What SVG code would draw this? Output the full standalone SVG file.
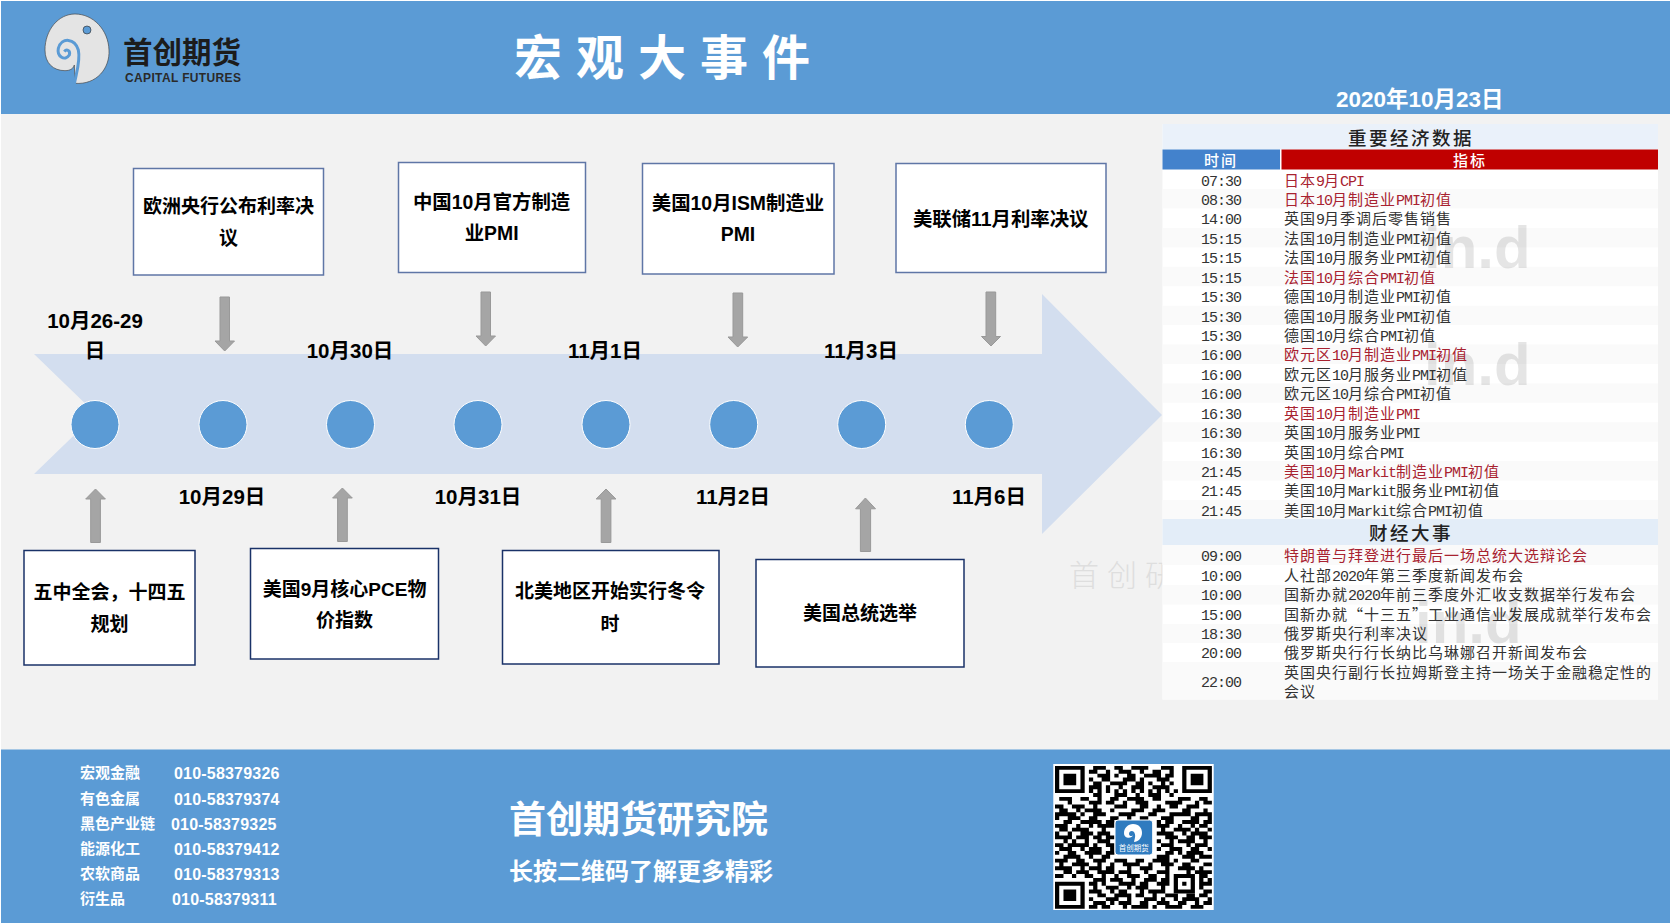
<svg xmlns="http://www.w3.org/2000/svg" width="1670" height="923" viewBox="0 0 1670 923">
<style>
text{font-family:"Noto Sans CJK SC","Liberation Sans",sans-serif}
.band{fill:#5B9BD5}
.box{fill:#fff;stroke-width:1.5}
.topb{stroke:#5F76A6}
.botb{stroke:#1A3268}
.bt,.dl{font-family:"Liberation Sans","Noto Sans CJK SC",sans-serif;font-weight:700;font-size:19px;fill:#000;text-anchor:middle}
.wd{font-size:19.4px}
.dl{font-size:20.5px}
.dot{fill:#5B9BD5;stroke:#fff;stroke-width:1}
.ga{fill:#A5A5A5;stroke:#999;stroke-width:1}
.sec{font-size:18.5px;font-weight:500;letter-spacing:2.5px;fill:#222;text-anchor:middle}
.alt{fill:#FAFAFA}
.r{font-size:15px;letter-spacing:1px;fill:#333}
.red{fill:#A82230}
.l,.t{font-family:"Liberation Mono",monospace;font-size:15px;letter-spacing:-1px}
.t{fill:#333;text-anchor:middle}
.wm{font-family:"Liberation Sans",sans-serif;font-weight:700;font-size:60px;fill:#000;fill-opacity:.1}
.fl{font-size:15px;font-weight:700;fill:#fff}
.fn{font-family:"Liberation Sans",sans-serif;font-size:16px;font-weight:700;letter-spacing:.2px;fill:#fff}
.w{fill:#fff;font-weight:700}
</style>
<rect width="1670" height="923" fill="#fff"/>
<rect id="bg" x="1" y="1" width="1669" height="922" fill="#F2F2F2"/>
<g id="header">
<rect class="band" x="1" y="1" width="1669" height="113"/>
<g id="logo" transform="translate(30 0) scale(.3333)">
<path d="M135 250C200 255 240 205 237 150C235 90 190 42 135 42C85 42 45 90 45 150C45 190 70 212 105 212C122 212 130 205 133 195Z" fill="#E4E4E4" stroke="#444" stroke-width="2"/>
<path d="M133 252C140 215 152 180 145 150C135 115 95 110 85 145C80 170 105 185 118 165C122 152 110 145 103 155" fill="none" stroke="#5B9BD5" stroke-width="9"/>
<circle cx="171" cy="90" r="12" fill="#5B9BD5" stroke="#333" stroke-width="2"/>
</g>
<text x="123" y="63" font-size="29.5" font-weight="700" fill="#1c1c1c">首创期货</text>
<text x="125" y="82" font-size="12" font-weight="700" fill="#2a2a2a" textLength="116" style="font-family:'Liberation Sans',sans-serif">CAPITAL FUTURES</text>
<text id="title" x="514" y="75" font-size="48" font-weight="900" letter-spacing="14" class="w">宏观大事件</text>
<text id="date" x="1336" y="107" font-size="22.5" class="w" style="font-family:'Liberation Sans','Noto Sans CJK SC',sans-serif">2020年10月23日</text>
</g>
<g id="timeline">
<polygon points="34,354 1042,354 1042,294 1162,415 1042,534 1042,474 34,474 96,414" fill="#D3DEEF"/>
<circle class="dot" cx="95" cy="424.5" r="24"/>
<circle class="dot" cx="223" cy="424.5" r="24"/>
<circle class="dot" cx="350.5" cy="424.5" r="24"/>
<circle class="dot" cx="478" cy="424.5" r="24"/>
<circle class="dot" cx="606" cy="424.5" r="24"/>
<circle class="dot" cx="733.7" cy="424.5" r="24"/>
<circle class="dot" cx="861.7" cy="424.5" r="24"/>
<circle class="dot" cx="989.3" cy="424.5" r="24"/>
</g>
<g id="dates">
<text class="dl" x="95" y="328">10月26-29</text>
<text class="dl" x="95" y="358">日</text>
<text class="dl" x="350" y="358">10月30日</text>
<text class="dl" x="605" y="358">11月1日</text>
<text class="dl" x="861" y="358">11月3日</text>
<text class="dl" x="222" y="504">10月29日</text>
<text class="dl" x="478" y="504">10月31日</text>
<text class="dl" x="733" y="504">11月2日</text>
<text class="dl" x="989" y="504">11月6日</text>
</g>
<g id="connectors" transform="translate(0 1)">
<polygon class="ga" points="220,296 229.5,296 229.5,340 234.5,340 224.7,350 215,340 220,340"/>
<polygon class="ga" points="481,291 490.5,291 490.5,335 495.5,335 485.7,345 476,335 481,335"/>
<polygon class="ga" points="733,292 742.7,292 742.7,336 747.7,336 737.7,346 728,336 733,336"/>
<polygon class="ga" points="986,291 995.7,291 995.7,335.5 1000.5,335.5 991,345 981.5,335.5 986,335.5"/>
<polygon class="ga" points="90.7,541.5 100.4,541.5 100.4,498 105.4,498 95.5,488 85.7,498 90.7,498"/>
<polygon class="ga" points="337.6,540.5 347.3,540.5 347.3,497 352.3,497 342.4,487 332.6,497 337.6,497"/>
<polygon class="ga" points="601.2,541.5 610.9,541.5 610.9,498 615.9,498 606,488 596.2,498 601.2,498"/>
<polygon class="ga" points="860.4,550.5 870.6,550.5 870.6,507.8 875.5,507.8 865.4,497 855.6,507.8 860.4,507.8"/>
</g>
<g id="n1"><rect class="box topb" x="133.5" y="168.5" width="190" height="106.5"/><text class="bt" x="228.5" y="212.5">欧洲央行公布利率决</text><text class="bt" x="228.5" y="245">议</text></g>
<g id="n2"><rect class="box topb" x="398.5" y="162.5" width="187" height="110"/><text class="bt wd" x="491.6" y="208.5">中国10月官方制造</text><text class="bt wd" x="491.6" y="240">业PMI</text></g>
<g id="n3"><rect class="box topb" x="642.5" y="163.5" width="191.5" height="110.5"/><text class="bt wd" x="738" y="209.5">美国10月ISM制造业</text><text class="bt wd" x="738" y="241">PMI</text></g>
<g id="n4"><rect class="box topb" x="896" y="163.5" width="210" height="109"/><text class="bt wd" x="1000.7" y="225.5">美联储11月利率决议</text></g>
<g id="n5"><rect class="box botb" x="24" y="550.5" width="171" height="114.5"/><text class="bt" x="109.4" y="598.5">五中全会，十四五</text><text class="bt" x="109.4" y="630.5">规划</text></g>
<g id="n6"><rect class="box botb" x="250.5" y="548.5" width="188" height="110.5"/><text class="bt" x="344.6" y="596">美国9月核心PCE物</text><text class="bt" x="344.6" y="627">价指数</text></g>
<g id="n7"><rect class="box botb" x="502.5" y="550.5" width="216.5" height="113.5"/><text class="bt" x="610" y="598">北美地区开始实行冬令</text><text class="bt" x="610" y="630.5">时</text></g>
<g id="n8"><rect class="box botb" x="756" y="559.5" width="208" height="107.5"/><text class="bt" x="860" y="620">美国总统选举</text></g>
<text id="wm-left" x="1069" y="586" font-size="30" font-weight="300" letter-spacing="8" fill="#DEDEDE">首创研</text>
<g id="table">
<rect x="1162.5" y="124" width="495.5" height="575.5" fill="#fff"/>
<rect x="1162.5" y="124" width="495.5" height="25.5" fill="#EAF1FA"/>
<rect x="1162.5" y="149.5" width="117.5" height="20" fill="#4382CC"/>
<rect x="1281.5" y="149.5" width="376.5" height="20" fill="#C00000"/>
<rect class="alt" x="1162.5" y="189" width="495.5" height="19.4"/>
<rect class="alt" x="1162.5" y="228" width="495.5" height="19.4"/>
<rect class="alt" x="1162.5" y="266.8" width="495.5" height="19.4"/>
<rect class="alt" x="1162.5" y="305.7" width="495.5" height="19.4"/>
<rect class="alt" x="1162.5" y="344.5" width="495.5" height="19.4"/>
<rect class="alt" x="1162.5" y="383.4" width="495.5" height="19.4"/>
<rect class="alt" x="1162.5" y="422.3" width="495.5" height="19.4"/>
<rect class="alt" x="1162.5" y="461.1" width="495.5" height="19.4"/>
<rect class="alt" x="1162.5" y="500" width="495.5" height="19"/>
<rect class="alt" x="1162.5" y="545" width="495.5" height="20"/>
<rect class="alt" x="1162.5" y="585" width="495.5" height="19.5"/>
<rect class="alt" x="1162.5" y="624" width="495.5" height="19"/>
<rect class="alt" x="1162.5" y="662" width="495.5" height="37.5"/>
<rect x="1162.5" y="519" width="495.5" height="26" fill="#E3EDF8"/>
<text class="wm" x="1424" y="268">in.d</text>
<text class="wm" x="1424" y="385">in.d</text>
<text class="wm" x="1415" y="643">in.d</text>
<text class="sec" x="1411" y="144.5">重要经济数据</text>
<text x="1221" y="165.5" font-size="15" font-weight="500" letter-spacing="2" fill="#fff" text-anchor="middle">时间</text>
<text x="1470" y="165.5" font-size="15" font-weight="500" letter-spacing="2" fill="#fff" text-anchor="middle">指标</text>
<text class="t" x="1221" y="185.5">07:30</text><text class="r red" x="1284" y="185.5">日本<tspan class="l">9</tspan>月<tspan class="l">CPI</tspan></text>
<text class="t" x="1221" y="204.9">08:30</text><text class="r red" x="1284" y="204.9">日本<tspan class="l">10</tspan>月制造业<tspan class="l">PMI</tspan>初值</text>
<text class="t" x="1221" y="224.4">14:00</text><text class="r" x="1284" y="224.4">英国<tspan class="l">9</tspan>月季调后零售销售</text>
<text class="t" x="1221" y="243.8">15:15</text><text class="r" x="1284" y="243.8">法国<tspan class="l">10</tspan>月制造业<tspan class="l">PMI</tspan>初值</text>
<text class="t" x="1221" y="263.2">15:15</text><text class="r" x="1284" y="263.2">法国<tspan class="l">10</tspan>月服务业<tspan class="l">PMI</tspan>初值</text>
<text class="t" x="1221" y="282.7">15:15</text><text class="r red" x="1284" y="282.7">法国<tspan class="l">10</tspan>月综合<tspan class="l">PMI</tspan>初值</text>
<text class="t" x="1221" y="302.1">15:30</text><text class="r" x="1284" y="302.1">德国<tspan class="l">10</tspan>月制造业<tspan class="l">PMI</tspan>初值</text>
<text class="t" x="1221" y="321.5">15:30</text><text class="r" x="1284" y="321.5">德国<tspan class="l">10</tspan>月服务业<tspan class="l">PMI</tspan>初值</text>
<text class="t" x="1221" y="341">15:30</text><text class="r" x="1284" y="341">德国<tspan class="l">10</tspan>月综合<tspan class="l">PMI</tspan>初值</text>
<text class="t" x="1221" y="360.4">16:00</text><text class="r red" x="1284" y="360.4">欧元区<tspan class="l">10</tspan>月制造业<tspan class="l">PMI</tspan>初值</text>
<text class="t" x="1221" y="379.8">16:00</text><text class="r" x="1284" y="379.8">欧元区<tspan class="l">10</tspan>月服务业<tspan class="l">PMI</tspan>初值</text>
<text class="t" x="1221" y="399.2">16:00</text><text class="r" x="1284" y="399.2">欧元区<tspan class="l">10</tspan>月综合<tspan class="l">PMI</tspan>初值</text>
<text class="t" x="1221" y="418.7">16:30</text><text class="r red" x="1284" y="418.7">英国<tspan class="l">10</tspan>月制造业<tspan class="l">PMI</tspan></text>
<text class="t" x="1221" y="438.1">16:30</text><text class="r" x="1284" y="438.1">英国<tspan class="l">10</tspan>月服务业<tspan class="l">PMI</tspan></text>
<text class="t" x="1221" y="457.5">16:30</text><text class="r" x="1284" y="457.5">英国<tspan class="l">10</tspan>月综合<tspan class="l">PMI</tspan></text>
<text class="t" x="1221" y="477">21:45</text><text class="r red" x="1284" y="477">美国<tspan class="l">10</tspan>月<tspan class="l">Markit</tspan>制造业<tspan class="l">PMI</tspan>初值</text>
<text class="t" x="1221" y="496.4">21:45</text><text class="r" x="1284" y="496.4">美国<tspan class="l">10</tspan>月<tspan class="l">Markit</tspan>服务业<tspan class="l">PMI</tspan>初值</text>
<text class="t" x="1221" y="515.8">21:45</text><text class="r" x="1284" y="515.8">美国<tspan class="l">10</tspan>月<tspan class="l">Markit</tspan>综合<tspan class="l">PMI</tspan>初值</text>
<text class="sec" x="1411" y="540">财经大事</text>
<text class="t" x="1221" y="561">09:00</text><text class="r red" x="1284" y="561">特朗普与拜登进行最后一场总统大选辩论会</text>
<text class="t" x="1221" y="580.5">10:00</text><text class="r" x="1284" y="580.5">人社部<tspan class="l">2020</tspan>年第三季度新闻发布会</text>
<text class="t" x="1221" y="600">10:00</text><text class="r" x="1284" y="600">国新办就<tspan class="l">2020</tspan>年前三季度外汇收支数据举行发布会</text>
<text class="t" x="1221" y="619.5">15:00</text><text class="r" x="1284" y="619.5">国新办就“十三五”工业通信业发展成就举行发布会</text>
<text class="t" x="1221" y="638.5">18:30</text><text class="r" x="1284" y="638.5">俄罗斯央行利率决议</text>
<text class="t" x="1221" y="658">20:00</text><text class="r" x="1284" y="658">俄罗斯央行行长纳比乌琳娜召开新闻发布会</text>
<text class="t" x="1221" y="687">22:00</text><text class="r" x="1284" y="677.5">英国央行副行长拉姆斯登主持一场关于金融稳定性的</text><text class="r" x="1284" y="697">会议</text>
</g>
<g id="footer">
<rect class="band" x="1" y="749.5" width="1669" height="173.5"/>
<text class="fl" x="80" y="778">宏观金融</text><text class="fn" x="174" y="778.5">010-58379326</text>
<text class="fl" x="80" y="804">有色金属</text><text class="fn" x="174" y="804.5">010-58379374</text>
<text class="fl" x="80" y="829">黑色产业链</text><text class="fn" x="171" y="829.5">010-58379325</text>
<text class="fl" x="80" y="854">能源化工</text><text class="fn" x="174" y="854.5">010-58379412</text>
<text class="fl" x="80" y="879">农软商品</text><text class="fn" x="174" y="879.5">010-58379313</text>
<text class="fl" x="80" y="904">衍生品</text><text class="fn" x="172" y="904.5">010-58379311</text>
<text class="w" x="509" y="833" font-size="37">首创期货研究院</text>
<text class="w" x="509" y="880" font-size="24">长按二维码了解更多精彩</text>
</g>
<g id="qr">
<rect x="1053.3" y="764" width="160.4" height="146" fill="#fff"/>
<g transform="translate(1055 766) scale(4.24 3.86)">
<path fill="none" stroke="#000" d="M0 .5h7M0 6.5h7M.5 0v7M6.5 0v7M30 .5h7M30 6.5h7M30.5 0v7M36.5 0v7M0 30.5h7M0 36.5h7M.5 30v7M6.5 30v7M28 28.5h5M28 32.5h5M28.5 28v5M32.5 28v5"/>
<path fill="#000" d="M2 2h3v3h-3zM32 2h3v3h-3zM2 32h3v3h-3zM30 30h1v1h-1z"/>
<path fill="none" stroke="#000" d="M9 .5h3M14 .5h2M18 .5h4M25 .5h3M8 1.5h2M12 1.5h1M15 1.5h3M20 1.5h1M23 1.5h2M27 1.5h1M10 2.5h3M14 2.5h1M17 2.5h2M21 2.5h4M26 2.5h2M8 3.5h1M11 3.5h2M16 3.5h3M20 3.5h1M24 3.5h3M9 4.5h2M13 4.5h4M19 4.5h2M22 4.5h1M25 4.5h1M27 4.5h1M8 5.5h3M12 5.5h1M15 5.5h1M18 5.5h3M23 5.5h4M8 6.5h1M10 6.5h1M12 6.5h1M14 6.5h1M16 6.5h1M18 6.5h1M20 6.5h1M22 6.5h1M24 6.5h1M26 6.5h1M28 6.5h1M9 7.5h2M14 7.5h3M19 7.5h1M22 7.5h3M27 7.5h1
M1 8.5h3M6 8.5h2M10 8.5h1M13 8.5h2M17 8.5h4M23 8.5h2M29 8.5h3M34 8.5h2
M3 9.5h1M8 9.5h3M12 9.5h2M16 9.5h1M19 9.5h3M26 9.5h4M33 9.5h1M35 9.5h2
M0 10.5h2M4 10.5h3M9 10.5h1M14 10.5h3M20 10.5h2M24 10.5h1M27 10.5h2M31 10.5h3
M1 11.5h2M5 11.5h1M7 11.5h4M13 11.5h1M18 11.5h3M23 11.5h3M30 11.5h2M35 11.5h1
M0 12.5h5M6 12.5h1M9 12.5h3M15 12.5h4M22 12.5h2M27 12.5h5M33 12.5h4
M0 13.5h1M3 13.5h3M8 13.5h2M13 13.5h2M17 13.5h1M20 13.5h2M25 13.5h3M32 13.5h2M36 13.5h1
M2 14.5h2M6 14.5h5M12 14.5h2M24 14.5h1M26 14.5h2M30 14.5h4M35 14.5h2
M0 15.5h3M5 15.5h1M8 15.5h1M10 15.5h4M24 15.5h3M29 15.5h1M32 15.5h1M34 15.5h2
M1 16.5h2M4 16.5h4M11 16.5h1M25 16.5h1M28 16.5h4M33 16.5h1M36 16.5h1
M0 17.5h1M3 17.5h1M6 17.5h3M10 17.5h3M24 17.5h4M30 17.5h1M32 17.5h4
M0 18.5h4M5 18.5h3M9 18.5h2M12 18.5h2M26 18.5h3M31 18.5h2M34 18.5h3
M2 19.5h1M4 19.5h1M7 19.5h1M10 19.5h3M24 19.5h1M27 19.5h1M29 19.5h4M35 19.5h1
M0 20.5h2M3 20.5h5M9 20.5h1M12 20.5h2M25 20.5h3M31 20.5h1M33 20.5h3
M1 21.5h3M6 21.5h1M8 21.5h3M13 21.5h1M24 21.5h1M27 21.5h3M32 21.5h2M36 21.5h1
M0 22.5h1M3 22.5h2M7 22.5h4M12 22.5h2M26 22.5h2M29 22.5h1M31 22.5h4
M2 23.5h4M8 23.5h1M11 23.5h2M24 23.5h3M30 23.5h3M34 23.5h3
M0 24.5h3M5 24.5h2M9 24.5h3M14 24.5h3M19 24.5h2M23 24.5h4M28 24.5h1M32 24.5h2
M1 25.5h1M4 25.5h4M10 25.5h1M13 25.5h1M16 25.5h4M22 25.5h1M25 25.5h3M30 25.5h2M35 25.5h2
M0 26.5h4M6 26.5h1M8 26.5h3M12 26.5h2M17 26.5h1M20 26.5h3M26 26.5h1M29 26.5h4M34 26.5h1
M2 27.5h2M5 27.5h3M10 27.5h4M15 27.5h3M21 27.5h1M24 27.5h3M31 27.5h1M33 27.5h4
M0 28.5h2M4 28.5h1M7 28.5h2M11 28.5h1M14 28.5h1M17 28.5h3M22 28.5h2M26 28.5h1M34 28.5h2
M9 29.5h3M13 29.5h3M18 29.5h1M21 29.5h3M25 29.5h2M34 29.5h1M36 29.5h1
M8 30.5h2M11 30.5h1M15 30.5h4M20 30.5h2M24 30.5h3M34 30.5h3
M9 31.5h1M12 31.5h3M17 31.5h1M19 31.5h3M25 31.5h1M34 31.5h1
M8 32.5h3M13 32.5h1M15 32.5h2M20 32.5h1M22 32.5h4M35 32.5h2
M10 33.5h2M14 33.5h4M19 33.5h2M23 33.5h1M26 33.5h3M31 33.5h2M34 33.5h2
M8 34.5h1M12 34.5h3M17 34.5h1M21 34.5h3M25 34.5h1M28 34.5h1M30 34.5h4M36 34.5h1
M9 35.5h3M13 35.5h1M15 35.5h3M20 35.5h2M24 35.5h3M29 35.5h2M33 35.5h1M35 35.5h2
M8 36.5h2M11 36.5h2M16 36.5h1M18 36.5h4M23 36.5h1M26 36.5h4M32 36.5h3"/>
</g>
<rect x="1115" y="820" width="37.7" height="35" rx="3" fill="#2F7BBF" stroke="#fff" stroke-width="1"/>
<path d="M1133 824c6 0 9 4 9 9s-4 9-8 9c1-4 2-7 0-10-2-2-5-1-5 2 0 2 3 3 4 1-1 4-9 4-9-2 0-5 4-9 9-9z" fill="#fff"/>
<text x="1133.8" y="851" font-size="7.5" fill="#fff" text-anchor="middle">首创期货</text>
</g>
</svg>
